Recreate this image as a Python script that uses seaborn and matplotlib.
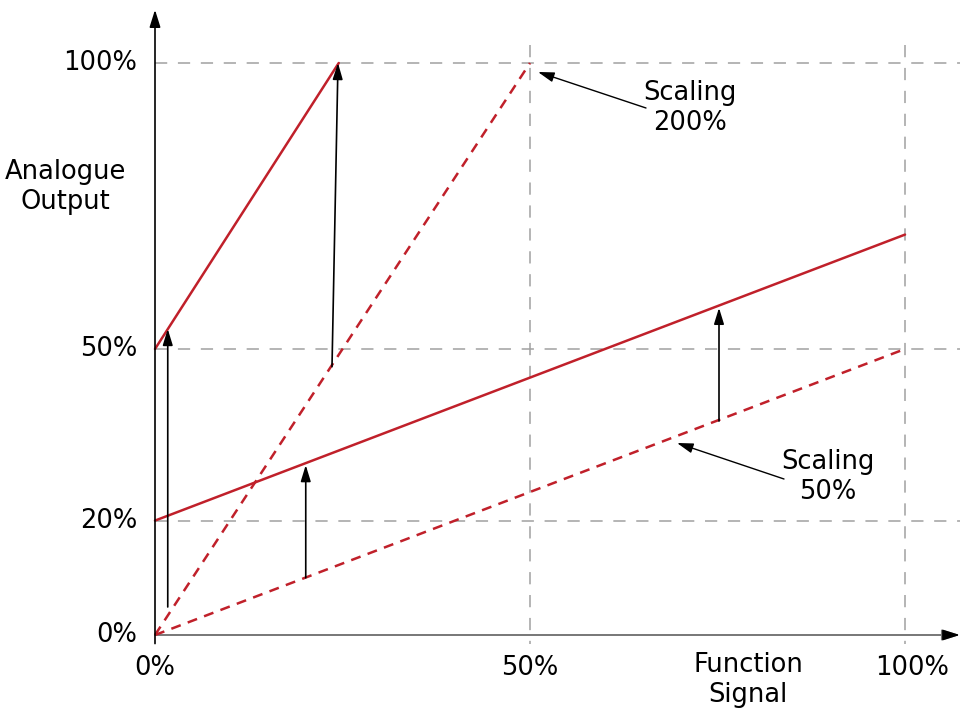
import matplotlib
matplotlib.use("Agg")
import matplotlib.pyplot as plt
import seaborn as sns
import pandas as pd

sns.set_theme(style="white")
plt.rcParams['font.family'] = ['DejaVu Sans']
plt.rcParams['text.color'] = 'black'

# ---- data (percent) ----
dash200_x = [0, 50]
dash200_y = [0, 100]
solid200_x = [0, 24.5]
solid200_y = [50, 100]
solid50_x = [0, 100]
solid50_y = [20, 70]
dash50_x = [0, 100]
dash50_y = [0, 50]

x_ticks = [0, 50, 100]
x_tick_labels = ["0%", "50%", "100%"]
y_ticks = [0, 20, 50, 100]
y_tick_labels = ["0%", "20%", "50%", "100%"]

# offset arrows ((x, y_start), (x, y_end)) ; second one slightly slanted
offset_arrows = [
    ((1.7, 4.9), (1.7, 53.5)),
    ((23.6, 46.9), (24.4, 100)),
    ((20.1, 10.0), (20.1, 29.7)),
    ((75.2, 37.4), (75.2, 57.2)),
]

RED = "#c0202a"
GRAY = "#a0a0a0"

fig = plt.figure(figsize=(9.61, 7.13), dpi=100)
ax = fig.add_axes([0, 0, 1, 1])
ax.set_xlim(-155 / 7.5, (961 - 155) / 7.5)
ax.set_ylim((635 - 713) / 5.72, 635 / 5.72)
ax.axis("off")

# grid lines
for yv in [20, 50, 100]:
    ax.plot([0, 107.3], [yv, yv], color=GRAY, lw=1.1, dashes=(8, 7), zorder=1)
for xv in [50, 100]:
    ax.plot([xv, xv], [103.1, -1.5], color=GRAY, lw=1.1, dashes=(8, 7), zorder=1)

# lines
df = pd.DataFrame({
    "x": dash200_x + solid200_x + solid50_x + dash50_x,
    "y": dash200_y + solid200_y + solid50_y + dash50_y,
    "s": ["d200"] * 2 + ["s200"] * 2 + ["s50"] * 2 + ["d50"] * 2,
})
sns.lineplot(data=df, x="x", y="y", hue="s", style="s",
             palette={k: RED for k in ["d200", "s200", "s50", "d50"]},
             dashes={"d200": (4, 3), "s200": "", "s50": "", "d50": (4, 3)},
             lw=1.8, legend=False, ax=ax, zorder=3, estimator=None, sort=False)

# axes with arrows
ax.annotate("", xy=(0, 109.3), xytext=(0, -1.5),
            arrowprops=dict(arrowstyle="-|>,head_length=0.7,head_width=0.22",
                            mutation_scale=15, lw=1.2, color="black",
                            shrinkA=0, shrinkB=0), zorder=4)
ax.annotate("", xy=(107.3, 0), xytext=(0, 0),
            arrowprops=dict(arrowstyle="-|>,head_length=0.7,head_width=0.22",
                            mutation_scale=15, lw=1.4, color="#777777",
                            shrinkA=0, shrinkB=0), zorder=2)
ax.annotate("", xy=(107.3, 0), xytext=(106, 0),
            arrowprops=dict(arrowstyle="-|>,head_length=0.7,head_width=0.22",
                            mutation_scale=15, lw=1.0, color="black",
                            shrinkA=0, shrinkB=0), zorder=4)

# offset arrows
for (x0, y0), (x1, y1) in offset_arrows:
    ax.annotate("", xy=(x1, y1), xytext=(x0, y0),
                arrowprops=dict(arrowstyle="-|>,head_length=0.65,head_width=0.2",
                                mutation_scale=15, lw=1.2, color="black",
                                shrinkA=0, shrinkB=0), zorder=5)

FS = 18.5
# scaling annotations (text + arrow)
ax.text((690 - 155) / 7.5, (635 - 108) / 5.72, "Scaling\n200%",
        ha="center", va="center", fontsize=FS, linespacing=1.2)
ax.annotate("", xy=((538 - 155) / 7.5, (635 - 72) / 5.72),
            xytext=((646 - 155) / 7.5, (635 - 108) / 5.72),
            arrowprops=dict(arrowstyle="-|>,head_length=0.65,head_width=0.2",
                            mutation_scale=15, lw=1.0, color="black",
                            shrinkA=0, shrinkB=0), zorder=5)
ax.text((828 - 155) / 7.5, (635 - 477) / 5.72, "Scaling\n50%",
        ha="center", va="center", fontsize=FS, linespacing=1.2)
ax.annotate("", xy=((677 - 155) / 7.5, (635 - 443) / 5.72),
            xytext=((784 - 155) / 7.5, (635 - 479) / 5.72),
            arrowprops=dict(arrowstyle="-|>,head_length=0.65,head_width=0.2",
                            mutation_scale=15, lw=1.0, color="black",
                            shrinkA=0, shrinkB=0), zorder=5)

# tick labels
for xv, lab in zip(x_ticks, x_tick_labels):
    ax.text(xv + (1.0 if xv == 100 else 0), -5.8, lab, ha="center", va="center", fontsize=FS)
for yv, lab in zip(y_ticks, y_tick_labels):
    ax.text(-2.4, yv, lab, ha="right", va="center", fontsize=FS)

# axis titles
ax.text((748 - 155) / 7.5, (635 - 680) / 5.72, "Function\nSignal",
        ha="center", va="center", fontsize=FS, linespacing=1.2)
ax.text((65 - 155) / 7.5, (635 - 187) / 5.72, "Analogue\nOutput",
        ha="center", va="center", fontsize=FS, linespacing=1.2)

fig.savefig("out.png", dpi=100)
